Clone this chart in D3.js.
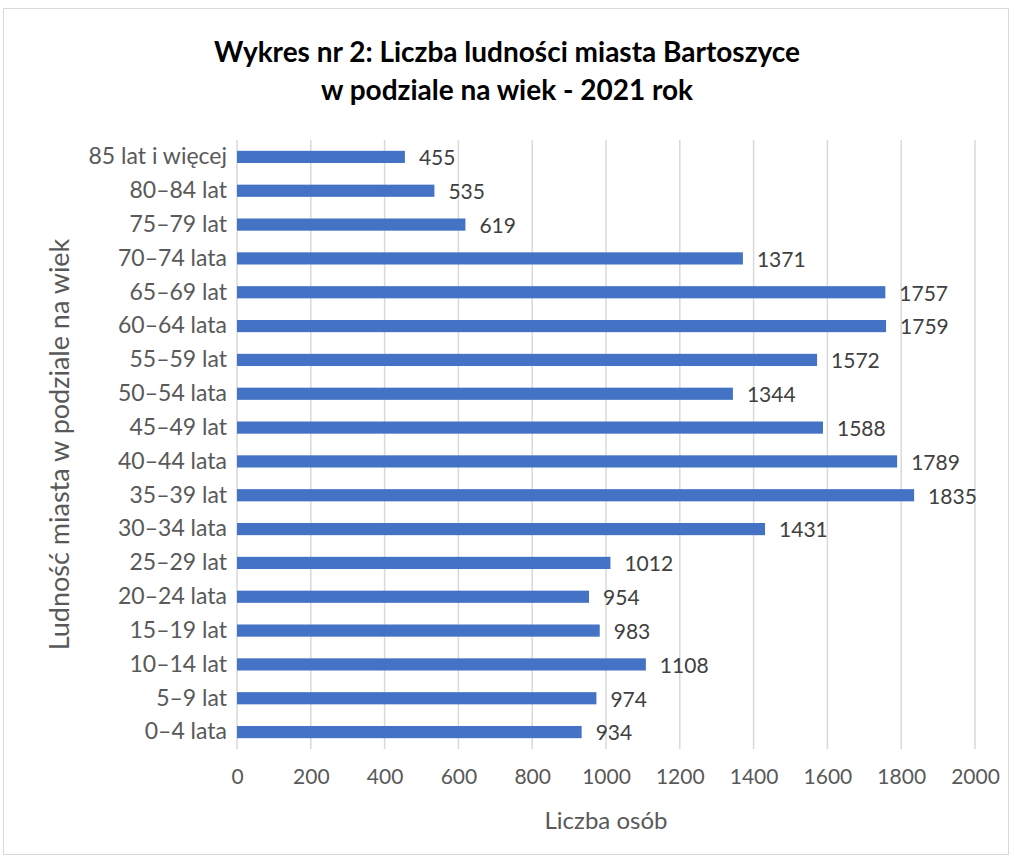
<!DOCTYPE html>
<html>
<head>
<meta charset="utf-8">
<script src="https://cdn.jsdelivr.net/npm/d3@7"></script>
<style>
  body { margin: 0; background: #fff; }
  svg text { font-family: Lato, "Open Sans", sans-serif; }
</style>
</head>
<body>
<div id="chart"></div>
<script>
// dane z wykresu (od góry do dołu)
var ageGroups = ["85 lat i więcej", "80–84 lat", "75–79 lat", "70–74 lata", "65–69 lat", "60–64 lata",
  "55–59 lat", "50–54 lata", "45–49 lat", "40–44 lata", "35–39 lat", "30–34 lata",
  "25–29 lat", "20–24 lata", "15–19 lat", "10–14 lat", "5–9 lat", "0–4 lata"];
var population = [455, 535, 619, 1371, 1757, 1759, 1572, 1344, 1588, 1789, 1835, 1431,
  1012, 954, 983, 1108, 974, 934];
var xTicks = [0, 200, 400, 600, 800, 1000, 1200, 1400, 1600, 1800, 2000];

var titleLines = ["Wykres nr 2: Liczba ludności miasta Bartoszyce", "w podziale na wiek - 2021 rok"];

var svgWidth = 1014, svgHeight = 858;
var margin = {top: 140, right: 39, bottom: 109, left: 237};
var width = svgWidth - margin.left - margin.right;
var height = svgHeight - margin.top - margin.bottom;

var data = ageGroups.map(function(g, i) { return {group: g, value: population[i]}; });

var svg = d3.select("#chart").append("svg")
  .attr("width", svgWidth)
  .attr("height", svgHeight);

// ramka wykresu
svg.append("rect")
  .attr("x", 3.5).attr("y", 8.5)
  .attr("width", 1005).attr("height", 846)
  .attr("fill", "#fff")
  .attr("stroke", "#d9d9d9");

svg.selectAll("text.title").data(titleLines).enter()
  .append("text")
  .attr("class", "title")
  .attr("x", 507)
  .attr("y", function(d, i) { return 62 + i * 38; })
  .attr("text-anchor", "middle")
  .attr("font-size", 28)
  .attr("font-weight", "bold")
  .attr("fill", "#000")
  .text(function(d) { return d; });

var g = svg.append("g").attr("transform", `translate(${margin.left}, ${margin.top})`);

var x = d3.scaleLinear().domain([0, 2000]).range([0, width]);
var y = d3.scaleBand().domain(ageGroups).range([0, height]).paddingInner(0.64).paddingOuter(0.32);

// linie siatki
g.selectAll("line.grid").data(xTicks).enter()
  .append("line")
  .attr("class", "grid")
  .attr("x1", d => x(d)).attr("x2", d => x(d))
  .attr("y1", 0).attr("y2", height)
  .attr("stroke", "#d9d9d9")
  .attr("stroke-width", 1.5);

var xAxis = g.append("g")
  .attr("transform", `translate(0, ${height})`)
  .call(d3.axisBottom(x).tickValues(xTicks).tickSize(0).tickPadding(20).tickFormat(d3.format("d")));
xAxis.select(".domain").remove();
xAxis.selectAll("text").attr("font-size", 21).attr("fill", "#595959").attr("font-family", "Lato, sans-serif");

var yAxis = g.append("g")
  .call(d3.axisLeft(y).tickSize(0).tickPadding(10));
yAxis.select(".domain").remove();
yAxis.selectAll("text").attr("font-size", 23).attr("fill", "#595959").attr("font-family", "Lato, sans-serif");

g.selectAll("rect.bar").data(data).enter()
  .append("rect")
  .attr("class", "bar")
  .attr("x", 0)
  .attr("y", d => y(d.group))
  .attr("width", d => x(d.value))
  .attr("height", y.bandwidth())
  .attr("fill", "#4472c4");

g.selectAll("text.val").data(data).enter()
  .append("text")
  .attr("class", "val")
  .attr("x", d => x(d.value) + 14)
  .attr("y", d => y(d.group) + y.bandwidth() / 2)
  .attr("dy", "0.4em")
  .attr("font-size", 21)
  .attr("fill", "#404040")
  .text(d => d.value);

g.append("text")
  .attr("x", width / 2)
  .attr("y", height + 80)
  .attr("text-anchor", "middle")
  .attr("font-size", 24)
  .attr("fill", "#595959")
  .text("Liczba osób");

g.append("text")
  .attr("transform", "rotate(-90)")
  .attr("x", -height / 2)
  .attr("y", -168)
  .attr("text-anchor", "middle")
  .attr("font-size", 27)
  .attr("fill", "#595959")
  .text("Ludność miasta w podziale na wiek");
</script>
</body>
</html>
